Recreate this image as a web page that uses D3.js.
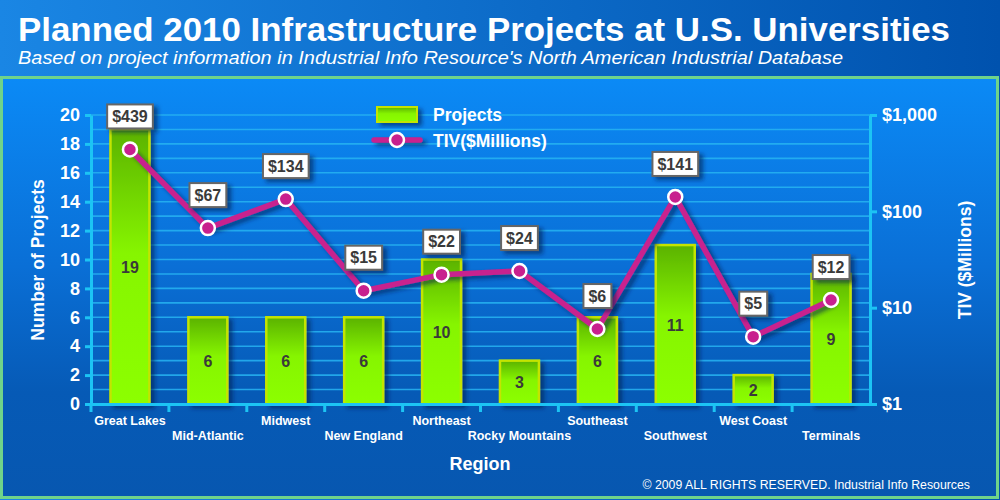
<!DOCTYPE html>
<html>
    <head>
        <meta charset="utf-8">
        <style>
            html, body {
                margin: 0px;
                padding: 0px;
                background-color: #0a5ab8;
                font-family: "Liberation Sans", Arial, sans-serif;
            }
            svg text { fill: #fff; font-weight: bold; }
            .axis .domain, .axis line { stroke: #1cc4f4; stroke-width: 3; }
            .axis text { fill: #fff; font-weight: bold; font-family: "Liberation Sans", Arial, sans-serif; }
            .grid line { stroke: #27b4f2; stroke-width: 1.6; opacity: 0.85; }
        </style>
        <script src="https://cdn.jsdelivr.net/npm/d3@7"></script>
    </head>
    <body>
        <div id="main"></div>
        <script>
            var regions = ["Great Lakes", "Mid-Atlantic", "Midwest", "New England", "Northeast",
                           "Rocky Mountains", "Southeast", "Southwest", "West Coast", "Terminals"];
            var projects = [19, 6, 6, 6, 10, 3, 6, 11, 2, 9];
            var tiv = [439, 67, 134, 15, 22, 24, 6, 141, 5, 12];
            var leftTicks = [0, 2, 4, 6, 8, 10, 12, 14, 16, 18, 20];
            var rightTicks = [1, 10, 100, 1000];

            var width = 1000;
            var height = 500;
            var plot = {left: 91, right: 870, top: 115, bottom: 404};

            function main() {
                var svg = d3.select("#main").append("svg")
                    .attr("width", width)
                    .attr("height", height);

                var defs = svg.append("defs");
                var g1 = defs.append("linearGradient").attr("id", "head")
                    .attr("x1", 0).attr("x2", 1).attr("y1", 0).attr("y2", 0);
                g1.append("stop").attr("offset", "0%").attr("stop-color", "#1a86e4");
                g1.append("stop").attr("offset", "100%").attr("stop-color", "#0052ae");

                var g2 = defs.append("linearGradient").attr("id", "panel")
                    .attr("x1", 0).attr("x2", 0).attr("y1", 0).attr("y2", 1);
                g2.append("stop").attr("offset", "0%").attr("stop-color", "#0b8af6");
                g2.append("stop").attr("offset", "45%").attr("stop-color", "#0a6fd6");
                g2.append("stop").attr("offset", "75%").attr("stop-color", "#065ab6");
                g2.append("stop").attr("offset", "100%").attr("stop-color", "#0757b0");

                var g3 = defs.append("linearGradient").attr("id", "bar")
                    .attr("x1", 0).attr("x2", 0).attr("y1", 0).attr("y2", 1);
                g3.append("stop").attr("offset", "0%").attr("stop-color", "#5bb200");
                g3.append("stop").attr("offset", "45%").attr("stop-color", "#86f500");
                g3.append("stop").attr("offset", "100%").attr("stop-color", "#8cff00");

                // shadow for shapes with a real box (bars, label boxes)
                var sh = defs.append("filter").attr("id", "shadow")
                    .attr("x", "-30%").attr("y", "-30%").attr("width", "170%").attr("height", "170%");
                sh.append("feDropShadow").attr("dx", 4).attr("dy", 3).attr("stdDeviation", 2)
                    .attr("flood-color", "#002050").attr("flood-opacity", 0.6);
                // shadow for lines (flat boxes)
                var shl = defs.append("filter").attr("id", "shadowLine")
                    .attr("filterUnits", "userSpaceOnUse")
                    .attr("x", -100).attr("y", 0).attr("width", width + 200).attr("height", height);
                shl.append("feDropShadow").attr("dx", 4).attr("dy", 3).attr("stdDeviation", 2)
                    .attr("flood-color", "#002050").attr("flood-opacity", 0.6);

                // background
                svg.append("rect").attr("width", width).attr("height", height).attr("fill", "url(#head)");
                svg.append("rect")
                    .attr("x", 1.5).attr("y", 77.5).attr("width", 996).attr("height", 420)
                    .attr("fill", "url(#panel)")
                    .attr("stroke", "#6fd38a").attr("stroke-width", 3);

                svg.append("text")
                    .attr("x", 18).attr("y", 41)
                    .attr("textLength", 932).attr("lengthAdjust", "spacingAndGlyphs")
                    .style("font-size", "33px")
                    .text("Planned 2010 Infrastructure Projects at U.S. Universities");
                svg.append("text")
                    .attr("x", 18).attr("y", 64)
                    .attr("textLength", 825).attr("lengthAdjust", "spacingAndGlyphs")
                    .style("font-size", "19px").style("font-style", "italic").style("font-weight", "normal")
                    .text("Based on project information in Industrial Info Resource's North American Industrial Database");

                var x = d3.scaleBand().domain(regions).range([plot.left, plot.right]);
                var y = d3.scaleLinear().domain([0, 20]).range([plot.bottom, plot.top]);
                var y2 = d3.scaleLog().domain([1, 1000]).range([plot.bottom, plot.top]);

                // grid lines every unit
                svg.append("g").attr("class", "grid")
                    .selectAll("line").data(d3.range(1, 21))
                    .enter().append("line")
                    .attr("x1", plot.left).attr("x2", plot.right)
                    .attr("y1", function(d) { return y(d); })
                    .attr("y2", function(d) { return y(d); });

                // bars
                var bw = x.bandwidth() * 0.5;
                var bars = svg.append("g").selectAll("g").data(regions).enter().append("g");
                bars.append("rect")
                    .attr("x", function(d) { return x(d) + (x.bandwidth() - bw) / 2; })
                    .attr("y", function(d, i) { return y(projects[i]); })
                    .attr("width", bw)
                    .attr("height", function(d, i) { return y(0) - y(projects[i]); })
                    .attr("fill", "url(#bar)")
                    .attr("stroke", "#c4e400").attr("stroke-width", 2.5)
                    .attr("filter", "url(#shadow)");
                bars.append("text")
                    .attr("x", function(d) { return x(d) + x.bandwidth() / 2; })
                    .attr("y", function(d, i) { return (y(0) + y(projects[i])) / 2 + 6; })
                    .attr("text-anchor", "middle")
                    .style("font-size", "16px").style("fill", "#3a3a3a")
                    .text(function(d, i) { return projects[i]; });

                // axes
                var leftAxis = svg.append("g").attr("class", "axis")
                    .attr("transform", "translate(" + plot.left + ",0)")
                    .call(d3.axisLeft(y).tickValues(leftTicks).tickSize(6).tickPadding(5).tickSizeOuter(0));
                leftAxis.selectAll("text").style("font-size", "18px");

                var rightAxis = svg.append("g").attr("class", "axis")
                    .attr("transform", "translate(" + plot.right + ",0)")
                    .call(d3.axisRight(y2).tickValues(rightTicks).tickSize(7).tickPadding(5).tickSizeOuter(0)
                        .tickFormat(function(d) { return "$" + d3.format(",")(d); }));
                rightAxis.selectAll("text").style("font-size", "18px");

                var bottomAxis = svg.append("g").attr("class", "axis")
                    .attr("transform", "translate(0," + plot.bottom + ")")
                    .call(d3.axisBottom(x).tickSize(0).tickPadding(0).tickSizeOuter(0));
                bottomAxis.selectAll(".tick text")
                    .attr("y", function(d, i) { return i % 2 ? 32 : 17; })
                    .attr("dy", "0.3em")
                    .style("font-size", "12.5px");
                // tick marks at band boundaries
                bottomAxis.selectAll(".sep").data(d3.range(0, regions.length))
                    .enter().append("line").attr("class", "sep")
                    .attr("x1", function(i) { return x(regions[i]); })
                    .attr("x2", function(i) { return x(regions[i]); })
                    .attr("y1", 0).attr("y2", 8);

                // TIV line
                var line = d3.line()
                    .x(function(d, i) { return x(regions[i]) + x.bandwidth() / 2; })
                    .y(function(d) { return y2(d); });
                svg.append("path").datum(tiv)
                    .attr("d", line)
                    .attr("fill", "none")
                    .attr("stroke", "#c8208e").attr("stroke-width", 5.5)
                    .attr("stroke-linejoin", "round")
                    .attr("filter", "url(#shadowLine)");
                svg.append("g").selectAll("circle").data(tiv).enter().append("circle")
                    .attr("cx", function(d, i) { return x(regions[i]) + x.bandwidth() / 2; })
                    .attr("cy", function(d) { return y2(d); })
                    .attr("r", 7)
                    .attr("fill", "#c8208e").attr("stroke", "#fff").attr("stroke-width", 2.5);

                // value boxes
                var labels = svg.append("g").selectAll("g").data(tiv).enter().append("g")
                    .attr("transform", function(d, i) {
                        return "translate(" + (x(regions[i]) + x.bandwidth() / 2) + "," + (y2(d) - 33) + ")";
                    });
                labels.append("text")
                    .attr("text-anchor", "middle").attr("dy", "0.36em")
                    .style("font-size", "16px").style("fill", "#3a3a3a")
                    .text(function(d) { return "$" + d; });
                labels.each(function() {
                    var g = d3.select(this);
                    var b = g.select("text").node().getBBox();
                    g.insert("rect", "text")
                        .attr("x", b.x - 5).attr("y", -12)
                        .attr("width", b.width + 10).attr("height", 24)
                        .attr("fill", "#fff").attr("stroke", "#666").attr("stroke-width", 2)
                        .attr("filter", "url(#shadow)");
                });

                // axis titles
                svg.append("text")
                    .attr("transform", "translate(44,260) rotate(-90)")
                    .attr("text-anchor", "middle")
                    .style("font-size", "17.5px")
                    .text("Number of Projects");
                svg.append("text")
                    .attr("transform", "translate(971,260) rotate(-90)")
                    .attr("text-anchor", "middle")
                    .style("font-size", "17.5px")
                    .text("TIV ($Millions)");
                svg.append("text")
                    .attr("x", 480).attr("y", 470)
                    .attr("text-anchor", "middle")
                    .style("font-size", "18px")
                    .text("Region");

                // legend
                var lg = svg.append("g").attr("transform", "translate(377,0)");
                lg.append("rect").attr("x", 0).attr("y", 107).attr("width", 40).attr("height", 15)
                    .attr("fill", "url(#bar)").attr("stroke", "#c4e400").attr("stroke-width", 2)
                    .attr("filter", "url(#shadow)");
                lg.append("text").attr("x", 56).attr("y", 121).style("font-size", "17.5px").text("Projects");
                lg.append("line").attr("x1", -3).attr("x2", 43).attr("y1", 140).attr("y2", 140)
                    .attr("stroke", "#c8208e").attr("stroke-width", 5.5).attr("stroke-linecap", "round")
                    .attr("filter", "url(#shadowLine)");
                lg.append("circle").attr("cx", 20).attr("cy", 140).attr("r", 7)
                    .attr("fill", "#c8208e").attr("stroke", "#fff").attr("stroke-width", 2.5);
                lg.append("text").attr("x", 56).attr("y", 147).style("font-size", "17.5px").text("TIV($Millions)");

                svg.append("text")
                    .attr("x", 970).attr("y", 489)
                    .attr("text-anchor", "end")
                    .style("font-size", "12.3px").style("font-weight", "normal")
                    .text("\u00a9 2009 ALL RIGHTS RESERVED. Industrial Info Resources");
            }

            main();
        </script>
    </body>
</html>
